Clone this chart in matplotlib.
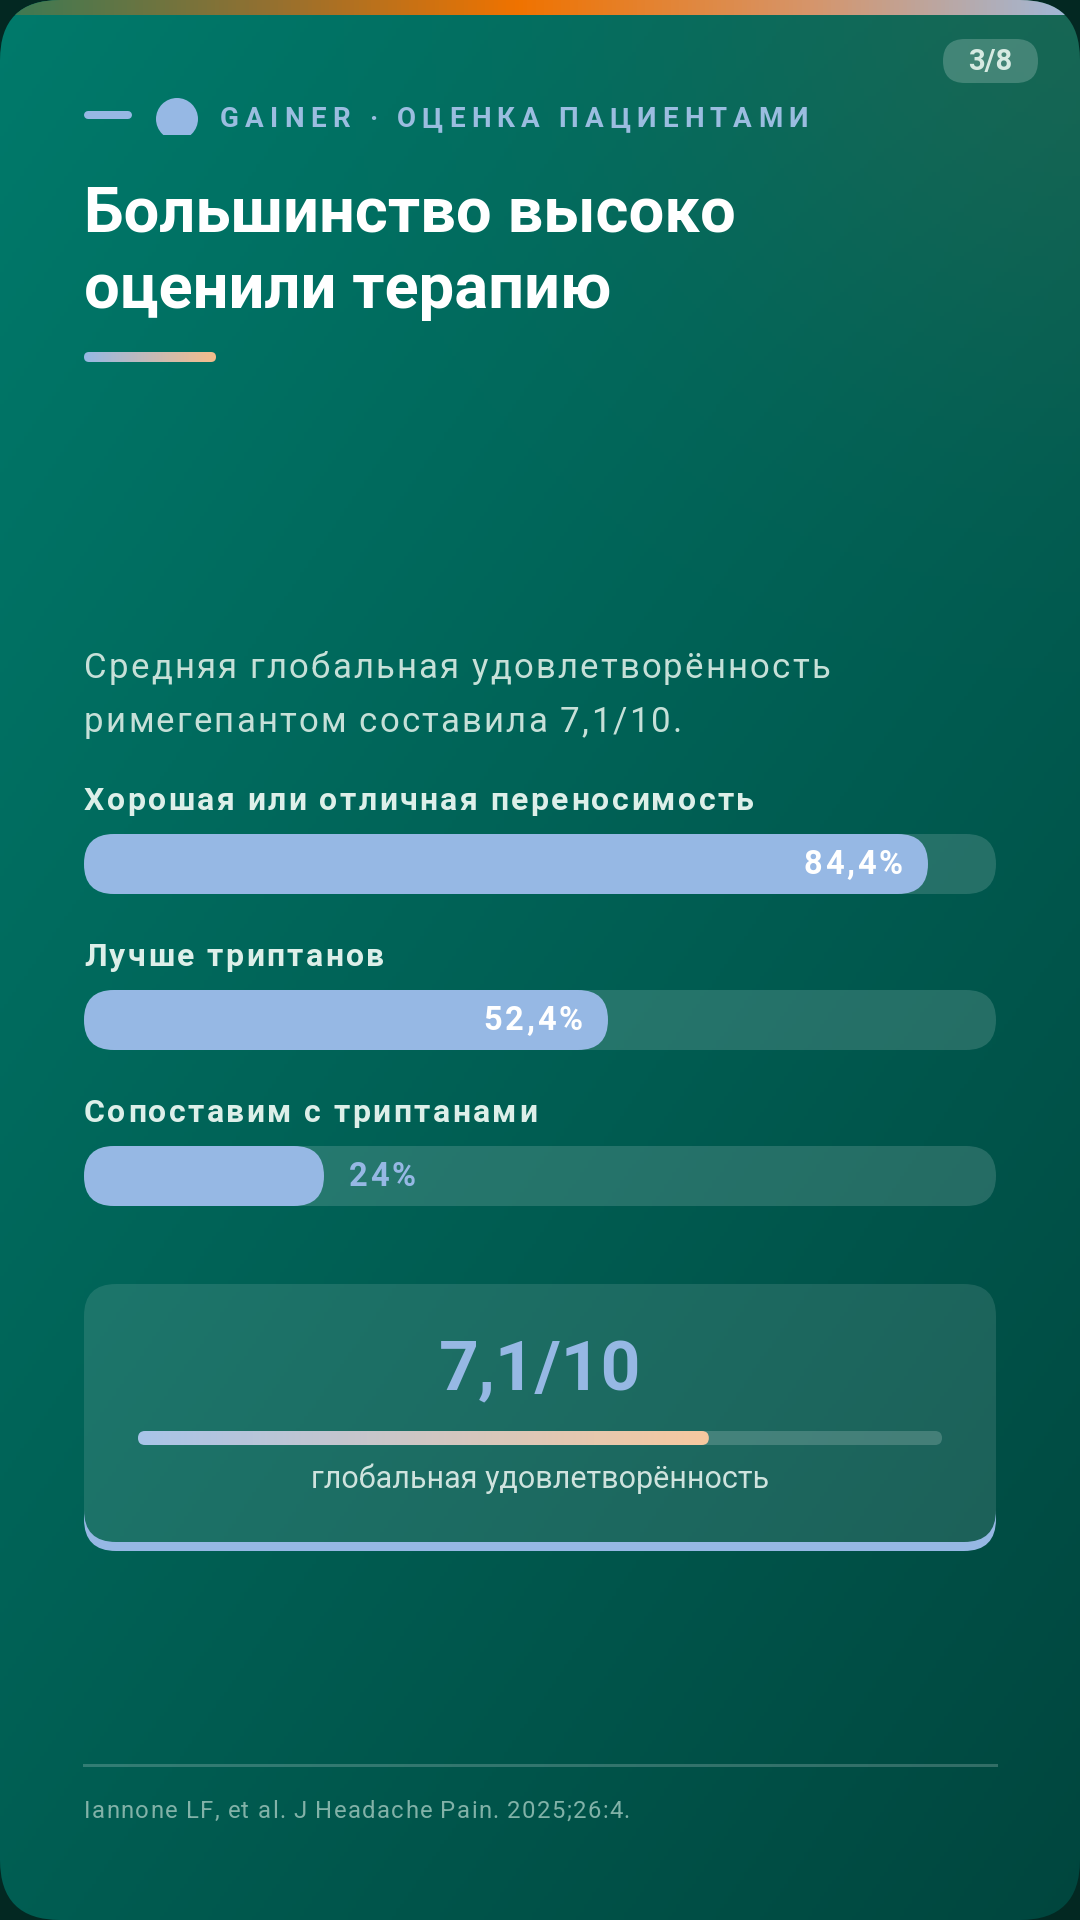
import numpy as np
import matplotlib.pyplot as plt
from matplotlib.patches import FancyBboxPatch, Rectangle, Circle
from matplotlib.colors import LinearSegmentedColormap, to_rgb

plt.rcParams['font.family'] = ['Roboto', 'DejaVu Sans']

W, H = 1080, 1920

# ---- data ----
slide_tag = "3/8"
kicker = "GAINER · ОЦЕНКА ПАЦИЕНТАМИ"
title_lines = ["Большинство высоко", "оценили терапию"]
lead_lines = ["Средняя глобальная удовлетворённость", "римегепантом составила 7,1/10."]
bar_labels = ["Хорошая или отличная переносимость", "Лучше триптанов", "Сопоставим с триптанами"]
bar_values = [84.4, 52.4, 24.0]
bar_texts = ["84,4%", "52,4%", "24%"]
score = 7.1
score_max = 10
score_text = "7,1/10"
score_caption = "глобальная удовлетворённость"
source = "Iannone LF, et al. J Headache Pain. 2025;26:4."

BLUE = '#96b8e4'
PEACH = '#f5bd8b'
TRACK_MAX = 91.2  # bar track length in value units

fig = plt.figure(figsize=(W / 100, H / 100), dpi=100, facecolor='#032822')
ax = fig.add_axes([0, 0, 1, 1])
ax.set_xlim(0, W)
ax.set_ylim(H, 0)
ax.axis('off')
renderer = fig.canvas.get_renderer()


def px_axes(x0, y0, x1, y1):
    a = fig.add_axes([x0 / W, 1 - y1 / H, (x1 - x0) / W, (y1 - y0) / H])
    a.axis('off')
    return a


def pill(a, x0, x1, yc, h_px, px_x, px_y, **kw):
    hd = h_px / px_y
    return FancyBboxPatch((x0, yc - hd / 2), x1 - x0, hd,
                          boxstyle=f"round,pad=0,rounding_size={h_px / 2 / px_x}",
                          mutation_aspect=px_x / px_y, transform=a.transData, **kw)


def text_w(a, s, **kw):
    tt = a.text(0, 0, s, **kw)
    w = tt.get_window_extent(renderer).width
    tt.remove()
    return w


def spaced(a, x, y, s, spacing, ha='left', unit=1.0, **kw):
    # letter-spaced text; spacing in pixels, unit = pixels per x data unit
    w_i = text_w(a, 'I', **kw)
    offs = [0.0] + [text_w(a, s[:i] + 'I', **kw) - w_i for i in range(1, len(s))]
    total = text_w(a, s, **kw) + spacing * (len(s) - 1)
    start = {'left': 0.0, 'center': -total / 2, 'right': -total}[ha]
    for i, ch in enumerate(s):
        a.text(x + (start + offs[i] + i * spacing) / unit, y, ch, ha='left', **kw)


# ---- background ----
card = FancyBboxPatch((0, 0), W, H, boxstyle="round,pad=0,rounding_size=60",
                      facecolor='none', edgecolor='none', transform=ax.transData)
ax.add_patch(card)
yy, xx = np.mgrid[0:H:4, 0:W:4]
t = (xx / W * 0.45 + yy / H * 0.55)
c0 = np.array(to_rgb('#007a6b'))
c1 = np.array(to_rgb('#00463e'))
bg = c0 + (c1 - c0) * t[..., None]
glow = np.exp(-(((xx - W) / 420.0) ** 2 + (yy / 380.0) ** 2))
bg = bg * (1 - 0.3 * glow[..., None]) + np.array(to_rgb('#4a7050')) * 0.3 * glow[..., None]
im = ax.imshow(bg, extent=(0, W, H, 0), aspect='auto', zorder=0)
im.set_clip_path(card)

top_cmap = LinearSegmentedColormap.from_list(
    'top', [(0, '#3a7a55'), (0.25, '#947030'), (0.48, '#f07300'), (0.75, '#d6956a'), (1, '#9fb9dc')])
tb = ax.imshow(np.linspace(0, 1, 256)[None, :], cmap=top_cmap, extent=(0, W, 15, 0),
               aspect='auto', zorder=1)
tb.set_clip_path(card)

# ---- badge ----
ax.add_patch(FancyBboxPatch((943, 39), 95, 44, boxstyle="round,pad=0,rounding_size=22",
                            facecolor='white', alpha=0.2, edgecolor='none', zorder=2))
ax.text(990, 62, slide_tag, ha='center', va='center', fontsize=21, fontweight='bold',
        color='#d6eae2', zorder=3)

# ---- kicker ----
ax.plot([88, 128], [115, 115], color=BLUE, lw=5.76, solid_capstyle='round', zorder=3)
dot = Circle((177, 119), 21, facecolor=BLUE, edgecolor='none', zorder=3)
ax.add_patch(dot)
dot.set_clip_path(Rectangle((150, 90), 60, 45, transform=ax.transData))

spaced(ax, 220, 127, kicker, 6.2, fontsize=20, fontweight='bold', color='#9bbde0',
       va='baseline', zorder=3)

# ---- title ----
for i, line in enumerate(title_lines):
    ax.text(84, 231 + i * 77, line, fontsize=45.5, fontweight='bold', color='white',
            va='baseline', ha='left', zorder=3)

ul = pill(ax, 84, 216, 357, 10, 1, 1, facecolor='none', edgecolor='none')
grad_cmap = LinearSegmentedColormap.from_list('g', [BLUE, PEACH])
ui = ax.imshow(np.linspace(0, 1, 256)[None, :], cmap=grad_cmap, extent=(84, 216, 362, 352),
               aspect='auto', zorder=3)
ui.set_clip_path(ul)

# ---- lead ----
for i, line in enumerate(lead_lines):
    spaced(ax, 84, 678 + i * 54, line, 2.2, fontsize=25, color='#c6e0d8',
           va='baseline', zorder=3)

# ---- bars ----
bx = px_axes(84, 786, 996, 1254)
bx.set_xlim(0, TRACK_MAX)
bx.set_ylim(2.5, -0.5)
bpx_x = 912 / TRACK_MAX
bpx_y = 468 / 3
for i, (lab, v, txt) in enumerate(zip(bar_labels, bar_values, bar_texts)):
    bx.add_patch(pill(bx, 0, TRACK_MAX, i, 60, bpx_x, bpx_y,
                      facecolor='white', alpha=0.15, edgecolor='none'))
    bx.add_patch(pill(bx, 0, v, i, 60, bpx_x, bpx_y, facecolor=BLUE, edgecolor='none'))
    spaced(bx, 0, i - 54 / bpx_y, lab, 2.4, unit=bpx_x, fontsize=23, fontweight='bold',
           color='#ddefe9', va='baseline')
    if v >= 40:
        spaced(bx, v - 26 / bpx_x, i + 1.5 / bpx_y, txt, 2.5, ha='right', unit=bpx_x,
               fontsize=23.5, fontweight='bold', color='white', va='center')
    else:
        spaced(bx, v + 25 / bpx_x, i + 1.5 / bpx_y, txt, 2.5, ha='left', unit=bpx_x,
               fontsize=23.5, fontweight='bold', color=BLUE, va='center')

# ---- score card ----
ax.add_patch(FancyBboxPatch((84, 1293), 912, 258, boxstyle="round,pad=0,rounding_size=32",
                            facecolor=BLUE, edgecolor='none', zorder=2))
sc = FancyBboxPatch((84, 1284), 912, 258, boxstyle="round,pad=0,rounding_size=32",
                    facecolor='none', edgecolor='none', transform=ax.transData)
cbg = bg * 0.89 + 0.11
ci = ax.imshow(cbg, extent=(0, W, H, 0), aspect='auto', zorder=2.5)
ci.set_clip_path(sc)

ax.text(540, 1390, score_text, fontsize=50, fontweight='bold', color=BLUE,
        ha='center', va='baseline', zorder=3)

gx = px_axes(138, 1431, 942, 1445)
gpx_x = 804 / score_max
gpx_y = 14
gx.add_patch(pill(gx, 0, score_max, 0.5, 14, gpx_x, gpx_y,
                  facecolor='white', alpha=0.18, edgecolor='none'))
gfill = pill(gx, 0, score, 0.5, 14, gpx_x, gpx_y, facecolor='none', edgecolor='none')
gi = gx.imshow(np.linspace(0, 1, 256)[None, :], cmap=grad_cmap, extent=(0, score, 0, 1),
               aspect='auto')
gi.set_clip_path(gfill)
gx.set_xlim(0, score_max)
gx.set_ylim(0, 1)

ax.text(540, 1488, score_caption, fontsize=22, color='#cfe3de',
        ha='center', va='baseline', zorder=3)

# ---- footer ----
ax.plot([84, 996], [1765, 1765], color='white', alpha=0.2, lw=2.2, zorder=3)
spaced(ax, 84, 1818, source, 1.3, fontsize=17.2, color='#82b2a8', va='baseline', zorder=3)

fig.savefig('out.png', dpi=100, facecolor=fig.get_facecolor())
